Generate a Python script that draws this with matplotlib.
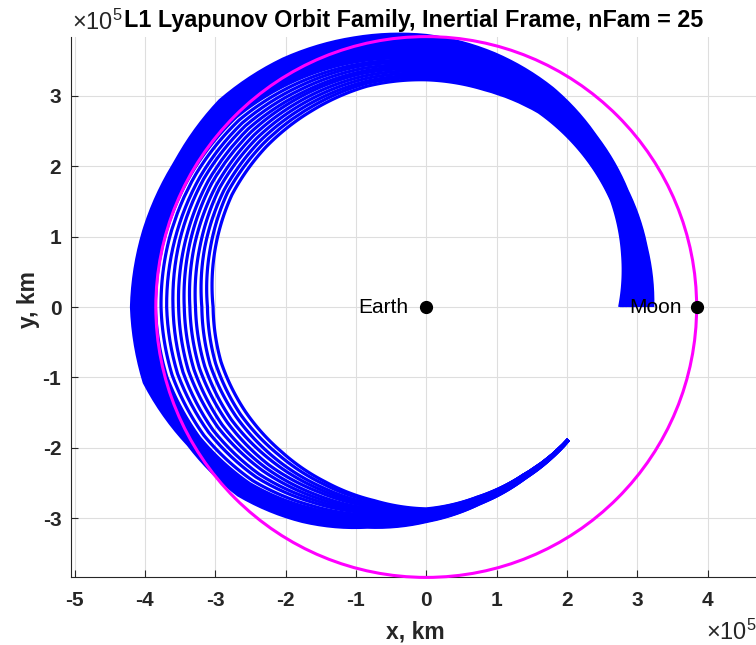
import numpy as np
import matplotlib
matplotlib.use('Agg')
import matplotlib.pyplot as plt
from matplotlib.ticker import FuncFormatter

plt.rcParams['font.family'] = ['Liberation Sans', 'DejaVu Sans']
plt.rcParams['mathtext.default'] = 'regular'

#############################################################################
# family data, inertial frame, radii in units of 1e5 km

nFam = 25

# swept angle about Earth (deg)
theta_deg = [0, 15, 30, 45, 60, 75, 90, 105, 120, 135, 150, 165,
             180, 195, 210, 225, 240, 255, 270, 285, 300, 317]

# radius of each family member (columns = members) at each swept angle
r_fam = [
    [2.75, 2.77, 2.79, 2.81, 2.83, 2.85, 2.87, 2.89, 2.91, 2.93, 2.95, 2.97, 2.99, 3.01, 3.03, 3.05, 3.07, 3.09, 3.11, 3.13, 3.14, 3.16, 3.18, 3.20, 3.22],
    [2.89, 2.91, 2.92, 2.94, 2.95, 2.97, 2.98, 3.00, 3.01, 3.03, 3.04, 3.06, 3.07, 3.08, 3.10, 3.11, 3.13, 3.14, 3.16, 3.17, 3.18, 3.20, 3.21, 3.23, 3.24],
    [3.04, 3.05, 3.06, 3.07, 3.08, 3.09, 3.11, 3.12, 3.13, 3.14, 3.15, 3.16, 3.17, 3.18, 3.19, 3.20, 3.21, 3.22, 3.24, 3.25, 3.26, 3.27, 3.28, 3.29, 3.30],
    [3.12, 3.13, 3.15, 3.16, 3.17, 3.18, 3.20, 3.21, 3.22, 3.23, 3.25, 3.26, 3.27, 3.28, 3.30, 3.31, 3.32, 3.33, 3.35, 3.36, 3.37, 3.38, 3.40, 3.41, 3.42],
    [3.20, 3.22, 3.23, 3.25, 3.27, 3.28, 3.30, 3.32, 3.33, 3.35, 3.37, 3.38, 3.40, 3.42, 3.43, 3.45, 3.46, 3.48, 3.50, 3.51, 3.53, 3.54, 3.56, 3.57, 3.59],
    [3.20, 3.22, 3.25, 3.27, 3.29, 3.32, 3.34, 3.36, 3.39, 3.41, 3.43, 3.46, 3.48, 3.50, 3.52, 3.54, 3.56, 3.58, 3.61, 3.63, 3.65, 3.67, 3.69, 3.71, 3.73],
    [3.23, 3.26, 3.29, 3.32, 3.35, 3.38, 3.41, 3.43, 3.46, 3.49, 3.52, 3.55, 3.58, 3.60, 3.63, 3.65, 3.67, 3.70, 3.72, 3.74, 3.77, 3.79, 3.81, 3.84, 3.86],
    [3.25, 3.29, 3.32, 3.36, 3.40, 3.44, 3.47, 3.51, 3.55, 3.58, 3.62, 3.64, 3.67, 3.69, 3.72, 3.74, 3.77, 3.79, 3.81, 3.84, 3.86, 3.89, 3.91, 3.94, 3.96],
    [3.23, 3.28, 3.33, 3.38, 3.43, 3.48, 3.52, 3.57, 3.62, 3.67, 3.72, 3.75, 3.77, 3.80, 3.82, 3.85, 3.87, 3.90, 3.92, 3.95, 3.97, 4.00, 4.02, 4.05, 4.07],
    [3.22, 3.28, 3.34, 3.40, 3.46, 3.52, 3.58, 3.64, 3.70, 3.76, 3.82, 3.84, 3.87, 3.89, 3.91, 3.94, 3.96, 3.99, 4.01, 4.03, 4.06, 4.08, 4.10, 4.13, 4.15],
    [3.19, 3.26, 3.32, 3.39, 3.45, 3.52, 3.58, 3.65, 3.71, 3.78, 3.84, 3.86, 3.88, 3.90, 3.92, 3.94, 3.96, 3.98, 4.00, 4.02, 4.04, 4.06, 4.08, 4.10, 4.12],
    [3.11, 3.18, 3.26, 3.33, 3.41, 3.48, 3.55, 3.63, 3.70, 3.78, 3.85, 3.87, 3.89, 3.92, 3.94, 3.96, 3.98, 4.00, 4.03, 4.05, 4.07, 4.09, 4.12, 4.14, 4.16],
    [3.03, 3.11, 3.19, 3.28, 3.36, 3.44, 3.52, 3.60, 3.69, 3.77, 3.85, 3.87, 3.90, 3.92, 3.95, 3.97, 3.99, 4.02, 4.04, 4.07, 4.09, 4.12, 4.14, 4.17, 4.19],
    [3.02, 3.10, 3.18, 3.26, 3.34, 3.42, 3.50, 3.58, 3.66, 3.74, 3.82, 3.84, 3.87, 3.89, 3.91, 3.94, 3.96, 3.99, 4.01, 4.03, 4.06, 4.08, 4.10, 4.13, 4.15],
    [2.97, 3.05, 3.12, 3.20, 3.27, 3.35, 3.42, 3.50, 3.57, 3.65, 3.72, 3.73, 3.75, 3.76, 3.77, 3.79, 3.80, 3.81, 3.83, 3.84, 3.85, 3.87, 3.88, 3.90, 3.91],
    [2.91, 2.97, 3.04, 3.10, 3.17, 3.23, 3.29, 3.36, 3.42, 3.49, 3.55, 3.57, 3.58, 3.60, 3.62, 3.63, 3.65, 3.67, 3.68, 3.70, 3.71, 3.73, 3.75, 3.76, 3.78],
    [2.87, 2.91, 2.96, 3.00, 3.04, 3.09, 3.13, 3.17, 3.21, 3.26, 3.30, 3.32, 3.33, 3.35, 3.36, 3.38, 3.39, 3.41, 3.43, 3.44, 3.46, 3.47, 3.49, 3.50, 3.52],
    [2.85, 2.87, 2.90, 2.92, 2.94, 2.97, 2.99, 3.01, 3.03, 3.06, 3.08, 3.09, 3.10, 3.11, 3.13, 3.14, 3.15, 3.16, 3.17, 3.18, 3.19, 3.21, 3.22, 3.23, 3.24],
    [2.87, 2.88, 2.89, 2.89, 2.90, 2.91, 2.92, 2.92, 2.93, 2.94, 2.95, 2.95, 2.96, 2.97, 2.98, 2.98, 2.99, 3.00, 3.01, 3.01, 3.02, 3.03, 3.04, 3.04, 3.05],
    [2.80, 2.80, 2.81, 2.81, 2.82, 2.82, 2.83, 2.83, 2.83, 2.84, 2.84, 2.85, 2.85, 2.85, 2.86, 2.86, 2.87, 2.87, 2.88, 2.88, 2.88, 2.89, 2.89, 2.90, 2.90],
    [2.76, 2.76, 2.76, 2.76, 2.76, 2.77, 2.77, 2.77, 2.77, 2.78, 2.78, 2.78, 2.78, 2.78, 2.79, 2.79, 2.79, 2.79, 2.80, 2.80, 2.80, 2.80, 2.81, 2.81, 2.81],
    [2.76, 2.76, 2.76, 2.76, 2.76, 2.76, 2.76, 2.76, 2.76, 2.76, 2.76, 2.76, 2.76, 2.77, 2.77, 2.77, 2.77, 2.77, 2.77, 2.77, 2.77, 2.77, 2.77, 2.77, 2.77],
]

earth_km = [0.0, 0.0]
moon_km = [384400.0, 0.0]

#############################################################################

W_PX, H_PX = 756, 645
fig = plt.figure(figsize=(W_PX/100, H_PX/100), dpi=100)

xlo, xhi = -5.05e5, 4.78e5
ylo, yhi = -3.844e5, 3.844e5
ax_l, ax_b, ax_h = 71.0, 67.6, 540.8     # pixels
ppu = ax_h / (yhi - ylo)                 # pixels per km, same on both axes

ax = fig.add_axes([ax_l/W_PX, ax_b/H_PX, (xhi-xlo)*ppu/W_PX, ax_h/H_PX])
ax.set_xlim(xlo, xhi)
ax.set_ylim(ylo, yhi)

# polar overlay centred on Earth, so each member is traced in (theta, r)
r_max = 4.4e5
ox = ax_l + (0 - xlo)*ppu
oy = ax_b + (0 - ylo)*ppu
rp = r_max*ppu
axp = fig.add_axes([(ox-rp)/W_PX, (oy-rp)/H_PX, 2*rp/W_PX, 2*rp/H_PX],
                   projection='polar')
axp.set_axis_off()
axp.patch.set_alpha(0)

th = np.radians(theta_deg)
r = np.array(r_fam).T*1e5
for k in range(nFam):
    ln, = axp.plot(th, r[k], color='b', linewidth=2.3,
                   solid_capstyle='butt', zorder=2)
    ln.get_path()._interpolation_steps = 16

# lunar orbit, Earth and Moon (drawn with the cartesian axes' coordinates)
axp.add_patch(plt.Circle((0, 0), moon_km[0], fill=False, ec='#ff00ff', lw=2.2,
                         transform=ax.transData, zorder=3))
axp.plot([earth_km[0], moon_km[0]], [earth_km[1], moon_km[1]], 'ko',
         markersize=8.5, transform=ax.transData, zorder=4, clip_on=False)
axp.text(earth_km[0]-0.25e5, earth_km[1], 'Earth', ha='right', va='center',
         fontsize=15, color='k', transform=ax.transData, zorder=5)
axp.text(moon_km[0]-0.21e5, moon_km[1], 'Moon', ha='right', va='center',
         fontsize=15, color='k', transform=ax.transData, zorder=5)
axp.set_rlim(0, r_max)

ax.set_xticks(np.arange(-5, 5)*1e5)
ax.set_yticks(np.arange(-3, 4)*1e5)
fmt = FuncFormatter(lambda v, p: '%d' % round(v/1e5))
ax.xaxis.set_major_formatter(fmt)
ax.yaxis.set_major_formatter(fmt)

for s in ['top', 'right']:
    ax.spines[s].set_visible(False)
for s in ['left', 'bottom']:
    ax.spines[s].set_color('#262626')
    ax.spines[s].set_linewidth(0.8)

ax.tick_params(direction='in', length=5, width=0.8, colors='#262626',
               labelsize=15)
ax.tick_params(axis='x', pad=10)
ax.tick_params(axis='y', pad=7)
for lab in ax.get_xticklabels() + ax.get_yticklabels():
    lab.set_fontweight('bold')

ax.grid(True, color='#dedede', linewidth=0.8)
ax.set_axisbelow(True)

fig.text(413.5/W_PX, 1-27.5/H_PX, 'L1 Lyapunov Orbit Family, Inertial Frame, nFam = 25',
         ha='center', va='baseline', fontsize=16.8, fontweight='bold', color='k')
fig.text(72/W_PX, 1-30/H_PX, r'$\times$10$^5$', ha='left', va='baseline',
         fontsize=17, color='#262626')
fig.text(706/W_PX, 1-640/H_PX, r'$\times$10$^5$', ha='left', va='baseline',
         fontsize=17, color='#262626')
fig.text(415/W_PX, 1-632/H_PX, 'x, km', ha='center', va='center',
         fontsize=16.5, fontweight='bold', color='#262626')
fig.text(28/W_PX, 1-300/H_PX, 'y, km', ha='center', va='center', rotation=90,
         fontsize=16.5, fontweight='bold', color='#262626')

plt.savefig('out.png', dpi=100)
